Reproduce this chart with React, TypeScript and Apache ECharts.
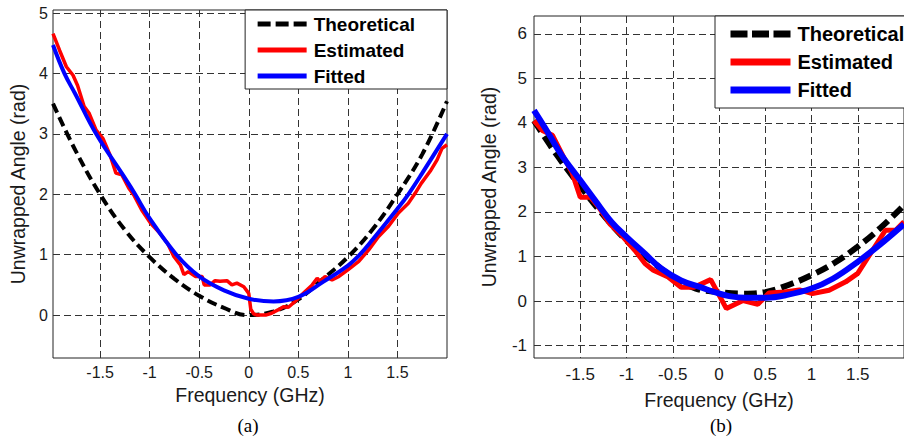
import React, { useEffect, useRef } from "react";
import * as echarts from "echarts";

const NAMES = ["Theoretical", "Estimated", "Fitted"];
const X_TICKS = [-1.5, -1, -0.5, 0, 0.5, 1, 1.5];
const Y_TICKS_A = [0, 1, 2, 3, 4, 5];
const Y_TICKS_B = [-1, 0, 1, 2, 3, 4, 5, 6];
const X_TITLE = "Frequency (GHz)";
const Y_TITLE = "Unwrapped Angle (rad)";

// ---- panel (a) ----
const aTheoX = [-1.975, -1.75, -1.5, -1.25, -1.0, -0.75, -0.5, -0.25, -0.02, 0.25, 0.5, 0.75, 1.0, 1.25, 1.5, 1.75, 2.0];
const aTheoY = [3.5, 2.73, 2.0, 1.41, 0.96, 0.6, 0.32, 0.12, 0.0, 0.06, 0.26, 0.6, 0.96, 1.42, 2.0, 2.66, 3.54];

const aEstX = [-1.975, -1.908, -1.84, -1.773, -1.727, -1.66, -1.61, -1.54, -1.47, -1.4, -1.34, -1.28, -1.21, -1.16, -1.08, -0.99, -0.91, -0.82, -0.756, -0.69, -0.654, -0.61, -0.54, -0.47, -0.45, -0.39, -0.34, -0.29, -0.22, -0.17, -0.12, -0.05, 0.0, 0.02, 0.05, 0.084, 0.17, 0.23, 0.3, 0.35, 0.4, 0.47, 0.55, 0.64, 0.69, 0.72, 0.77, 0.84, 0.91, 1.0, 1.11, 1.21, 1.31, 1.41, 1.51, 1.61, 1.68, 1.74, 1.83, 1.9, 1.95, 2.0];
const aEstY = [4.66, 4.38, 4.11, 3.97, 3.8, 3.45, 3.34, 3.06, 2.92, 2.65, 2.35, 2.32, 2.1, 1.99, 1.74, 1.52, 1.38, 1.19, 0.97, 0.83, 0.67, 0.72, 0.64, 0.64, 0.5, 0.5, 0.57, 0.56, 0.57, 0.5, 0.53, 0.47, 0.36, 0.1, 0.02, 0.0, 0.0, 0.03, 0.09, 0.14, 0.13, 0.23, 0.36, 0.5, 0.61, 0.56, 0.64, 0.58, 0.64, 0.75, 0.89, 1.08, 1.3, 1.47, 1.69, 1.85, 2.02, 2.18, 2.38, 2.57, 2.76, 2.82];

const aFitX = [-1.975, -1.86, -1.75, -1.54, -1.25, -1.146, -1.0, -0.73, -0.5, -0.25, 0.0, 0.25, 0.5, 0.75, 1.0, 1.12, 1.25, 1.5, 1.61, 1.75, 2.0];
const aFitY = [4.47, 4.0, 3.66, 3.0, 2.27, 2.0, 1.6, 1.0, 0.64, 0.41, 0.27, 0.225, 0.3, 0.55, 0.82, 1.0, 1.25, 1.76, 2.0, 2.35, 3.0];

// ---- panel (b) ----
const bTheoX = [-2.0, -1.75, -1.5, -1.25, -1.0, -0.75, -0.5, -0.25, 0.0, 0.25, 0.5, 0.75, 1.0, 1.25, 1.5, 1.75, 2.0];
const bTheoY = [4.05, 3.27, 2.58, 1.93, 1.36, 0.93, 0.54, 0.28, 0.2, 0.165, 0.2, 0.36, 0.58, 0.86, 1.22, 1.65, 2.15];

const bEstX = [-2.0, -1.91, -1.8, -1.68, -1.59, -1.5, -1.39, -1.3, -1.18, -1.05, -0.91, -0.8, -0.71, -0.55, -0.41, -0.27, -0.09, 0.08, 0.26, 0.42, 0.54, 0.71, 0.87, 1.01, 1.19, 1.37, 1.5, 1.66, 1.8, 1.91, 2.0];
const bEstY = [4.05, 3.83, 3.72, 3.23, 2.89, 2.33, 2.33, 2.11, 1.73, 1.47, 1.14, 0.84, 0.69, 0.54, 0.31, 0.31, 0.48, -0.17, 0.01, -0.075, 0.18, 0.2, 0.25, 0.165, 0.24, 0.43, 0.62, 1.14, 1.59, 1.59, 1.78];

const bFitX = [-2.0, -1.84, -1.7, -1.5, -1.34, -1.16, -1.0, -0.8, -0.625, -0.41, -0.2, -0.02, 0.11, 0.29, 0.51, 0.72, 1.0, 1.23, 1.5, 1.73, 1.97, 2.0];
const bFitY = [4.28, 3.75, 3.27, 2.71, 2.26, 1.77, 1.44, 1.06, 0.73, 0.46, 0.31, 0.18, 0.11, 0.075, 0.075, 0.13, 0.28, 0.5, 0.88, 1.25, 1.67, 1.72];

const zip = (xs: number[], ys: number[]) => xs.map((x, i) => [x, ys[i]]);

const FONT = "Liberation Sans, Arial, sans-serif";
const GRID_LINE = { show: true, lineStyle: { color: "#333", width: 1, type: [7, 4] as any } };

function buildOption(p: any) {
  return {
    animation: false,
    backgroundColor: "#fff",
    grid: { show: true, borderColor: "#222", borderWidth: 1, backgroundColor: "transparent", ...p.grid },
    xAxis: {
      type: "value",
      min: p.xMin,
      max: p.xMax,
      name: X_TITLE,
      nameLocation: "middle",
      nameGap: p.xNameGap,
      nameTextStyle: { fontFamily: FONT, fontSize: p.titleSize, color: "#1a1a1a" },
      axisLine: { show: false },
      axisTick: { show: false, customValues: X_TICKS },
      axisLabel: { customValues: X_TICKS, fontFamily: FONT, fontSize: p.tickSize, color: "#1a1a1a", margin: p.xLabelMargin },
      splitLine: GRID_LINE,
    },
    yAxis: {
      type: "value",
      min: p.yMin,
      max: p.yMax,
      name: Y_TITLE,
      nameLocation: "middle",
      nameGap: p.yNameGap,
      nameTextStyle: { fontFamily: FONT, fontSize: p.titleSize, color: "#1a1a1a" },
      axisLine: { show: false },
      axisTick: { show: false, customValues: p.yTicks },
      axisLabel: { customValues: p.yTicks, fontFamily: FONT, fontSize: p.tickSize, color: "#1a1a1a", margin: p.yLabelMargin },
      splitLine: GRID_LINE,
    },
    legend: {
      orient: "vertical",
      data: [
        { name: NAMES[0], lineStyle: { width: p.legendLineW, type: p.legendDash } },
        { name: NAMES[1], lineStyle: { width: p.legendLineW } },
        { name: NAMES[2], lineStyle: { width: p.legendLineW } },
      ],
      ...p.legendPos,
      backgroundColor: "#fff",
      borderColor: "#222",
      borderWidth: 1,
      borderRadius: 0,
      padding: p.legendPadding,
      itemWidth: p.legendItemWidth,
      itemHeight: 14,
      itemGap: p.legendGap,
      selectedMode: false,
      itemStyle: { opacity: 0 },
      textStyle: { fontFamily: FONT, fontSize: p.legendFont, fontWeight: "bold", color: "#000", lineHeight: p.legendLineHeight, padding: [0, 0, 0, 2] },
    },
    graphic: [
      {
        type: "text",
        x: p.caption.x,
        y: p.caption.y,
        style: { text: p.caption.text, fontFamily: "Liberation Serif, Times New Roman, serif", fontSize: 19, fill: "#000", textAlign: "center", textVerticalAlign: "middle" },
      },
    ],
    series: [
      {
        name: NAMES[0],
        type: "line",
        data: zip(p.theoX, p.theoY),
        smooth: 0.4,
        symbol: "none",
        lineStyle: { color: "#000", width: p.wTheo, type: p.dash },
        itemStyle: { color: "#000" },
      },
      {
        name: NAMES[1],
        type: "line",
        data: zip(p.estX, p.estY),
        symbol: "none",
        lineStyle: { color: "#ff0000", width: p.wEst },
        itemStyle: { color: "#ff0000" },
      },
      {
        name: NAMES[2],
        type: "line",
        data: zip(p.fitX, p.fitY),
        smooth: 0.4,
        symbol: "none",
        lineStyle: { color: "#0000ff", width: p.wFit },
        itemStyle: { color: "#0000ff" },
      },
    ],
  };
}

const PANEL_A = {
  grid: { left: 53, right: 5, top: 10, bottom: 80 },
  xMin: -1.975, xMax: 2.0, yMin: -0.71, yMax: 5.05, yTicks: Y_TICKS_A,
  xNameGap: 27, yNameGap: 21, titleSize: 19.5, tickSize: 16, xLabelMargin: 6, yLabelMargin: 5,
  legendPos: { right: 5, top: 10 }, legendPadding: [4, 32, 3, 10], legendItemWidth: 49, legendGap: 6, legendFont: 19, legendLineHeight: 20,
  legendLineW: 5, legendDash: [13, 5],
  caption: { text: "(a)", x: 248, y: 425 },
  theoX: aTheoX, theoY: aTheoY, estX: aEstX, estY: aEstY, fitX: aFitX, fitY: aFitY,
  wTheo: 4, wEst: 3.5, wFit: 4, dash: [10, 5],
};

const PANEL_B = {
  grid: { left: 82, right: -2, top: 16, bottom: 80 },
  xMin: -2.0, xMax: 2.0, yMin: -1.28, yMax: 6.4, yTicks: Y_TICKS_B,
  xNameGap: 32, yNameGap: 35, titleSize: 19.5, tickSize: 17, xLabelMargin: 8, yLabelMargin: 7,
  legendPos: { left: 263, top: 16 }, legendPadding: [7, 20, 7, 12], legendItemWidth: 60, legendGap: 6, legendFont: 20, legendLineHeight: 22,
  legendLineW: 7, legendDash: [17, 4.5],
  caption: { text: "(b)", x: 269, y: 425 },
  theoX: bTheoX, theoY: bTheoY, estX: bEstX, estY: bEstY, fitX: bFitX, fitY: bFitY,
  wTheo: 6, wEst: 5, wFit: 6, dash: [13, 6],
};

function Panel({ cfg, left }: { cfg: any; left: number }) {
  const ref = useRef<HTMLDivElement>(null);
  useEffect(() => {
    if (!ref.current) return;
    const chart = echarts.init(ref.current, null, { renderer: "svg" });
    chart.setOption(buildOption(cfg) as any);
    return () => chart.dispose();
  }, []);
  return <div ref={ref} style={{ position: "absolute", left, top: 0, width: 452, height: 438 }} />;
}

export default function App() {
  return (
    <div style={{ position: "fixed", left: 0, top: 0, width: 904, height: 438, background: "#fff", overflow: "hidden" }}>
      <Panel cfg={PANEL_A} left={0} />
      <Panel cfg={PANEL_B} left={452} />
    </div>
  );
}
